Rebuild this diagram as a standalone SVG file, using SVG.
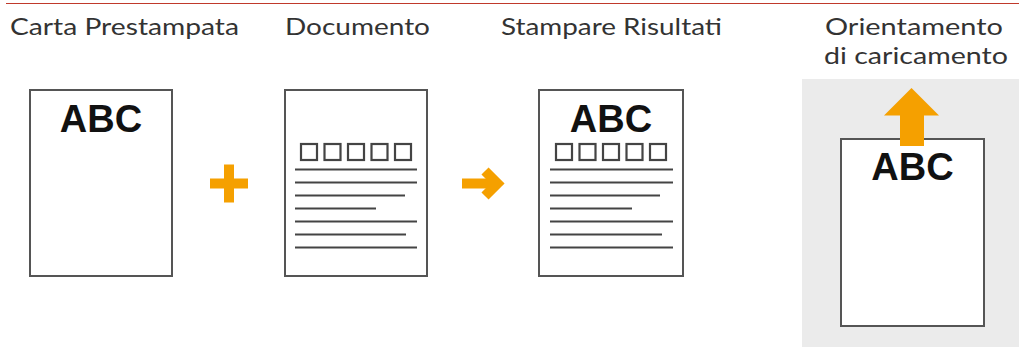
<svg xmlns="http://www.w3.org/2000/svg" width="1019" height="347" viewBox="0 0 1019 347">
<style>
.lbl{font-family:Lato,"Open Sans","DejaVu Sans",sans-serif;font-size:24px;fill:#333}
.abc{font-family:"Liberation Sans",Arial,sans-serif;font-weight:bold;font-size:38px;fill:#111;text-anchor:middle}
.paper{fill:#fff;stroke:#555;stroke-width:2}
.sq{fill:none;stroke:#444;stroke-width:2.2}
.ln{stroke:#444;stroke-width:2}
.or{fill:#F5A000}
</style>
<rect x="0" y="0" width="1019" height="347" fill="#fff"/>
<line x1="6" y1="3.5" x2="1019" y2="3.5" stroke="#C0392B" stroke-width="1.2"/>
<rect x="802" y="79" width="217" height="268" fill="#EBEBEB"/>
<g id="label-carta"><text class="lbl" x="10" y="35" textLength="229" lengthAdjust="spacingAndGlyphs">Carta Prestampata</text></g>
<g id="label-documento"><text class="lbl" x="285" y="35" textLength="145" lengthAdjust="spacingAndGlyphs">Documento</text></g>
<g id="label-stampare"><text class="lbl" x="501" y="35" textLength="221" lengthAdjust="spacingAndGlyphs">Stampare Risultati</text></g>
<g id="label-orientamento"><text class="lbl" x="825" y="35" textLength="178" lengthAdjust="spacingAndGlyphs">Orientamento</text><text class="lbl" x="824" y="64" textLength="184" lengthAdjust="spacingAndGlyphs">di caricamento</text></g>
<g id="carta">
<rect class="paper" x="30" y="90" width="142" height="186"/>
<text class="abc" x="101" y="132">ABC</text>
</g>
<g id="documento">
<rect class="paper" x="285" y="90" width="142" height="186"/>
<rect class="sq" x="301" y="144" width="16" height="16"/>
<rect class="sq" x="324.5" y="144" width="16" height="16"/>
<rect class="sq" x="348" y="144" width="16" height="16"/>
<rect class="sq" x="371.5" y="144" width="16" height="16"/>
<rect class="sq" x="395" y="144" width="16" height="16"/>
<line class="ln" x1="295" y1="169.5" x2="417" y2="169.5"/>
<line class="ln" x1="295" y1="182.5" x2="417" y2="182.5"/>
<line class="ln" x1="295" y1="195.5" x2="405" y2="195.5"/>
<line class="ln" x1="295" y1="208.5" x2="376" y2="208.5"/>
<line class="ln" x1="295" y1="221.5" x2="417" y2="221.5"/>
<line class="ln" x1="295" y1="234.5" x2="406" y2="234.5"/>
<line class="ln" x1="295" y1="247.5" x2="417" y2="247.5"/>
</g>
<g id="risultati">
<rect class="paper" x="539" y="90" width="144" height="186"/>
<text class="abc" x="611" y="132">ABC</text>
<rect class="sq" x="556" y="144" width="16" height="16"/>
<rect class="sq" x="579.5" y="144" width="16" height="16"/>
<rect class="sq" x="603" y="144" width="16" height="16"/>
<rect class="sq" x="626.5" y="144" width="16" height="16"/>
<rect class="sq" x="650" y="144" width="16" height="16"/>
<line class="ln" x1="550" y1="169.5" x2="673" y2="169.5"/>
<line class="ln" x1="550" y1="182.5" x2="673" y2="182.5"/>
<line class="ln" x1="550" y1="195.5" x2="660" y2="195.5"/>
<line class="ln" x1="550" y1="208.5" x2="632" y2="208.5"/>
<line class="ln" x1="550" y1="221.5" x2="673" y2="221.5"/>
<line class="ln" x1="550" y1="234.5" x2="662" y2="234.5"/>
<line class="ln" x1="550" y1="247.5" x2="673" y2="247.5"/>
</g>
<g id="orientamento">
<rect class="paper" x="841" y="139" width="143" height="187"/>
<text class="abc" x="912.5" y="180">ABC</text>
<polygon class="or" points="911.5,88 939,115.5 924,115.5 924,146 900,146 900,115.5 884,115.5"/>
</g>
<g id="connectors">
<path class="or" d="M210,178.5 H224 V164.5 H234 V178.5 H248 V188.5 H234 V202.5 H224 V188.5 H210 Z"/>
<g fill="none" stroke="#F5A000" stroke-width="10">
<line x1="462" y1="183.5" x2="497" y2="183.5"/>
<polyline points="485,171 497.5,183.5 485,196" stroke-linejoin="miter"/>
</g>
</g>
</svg>
